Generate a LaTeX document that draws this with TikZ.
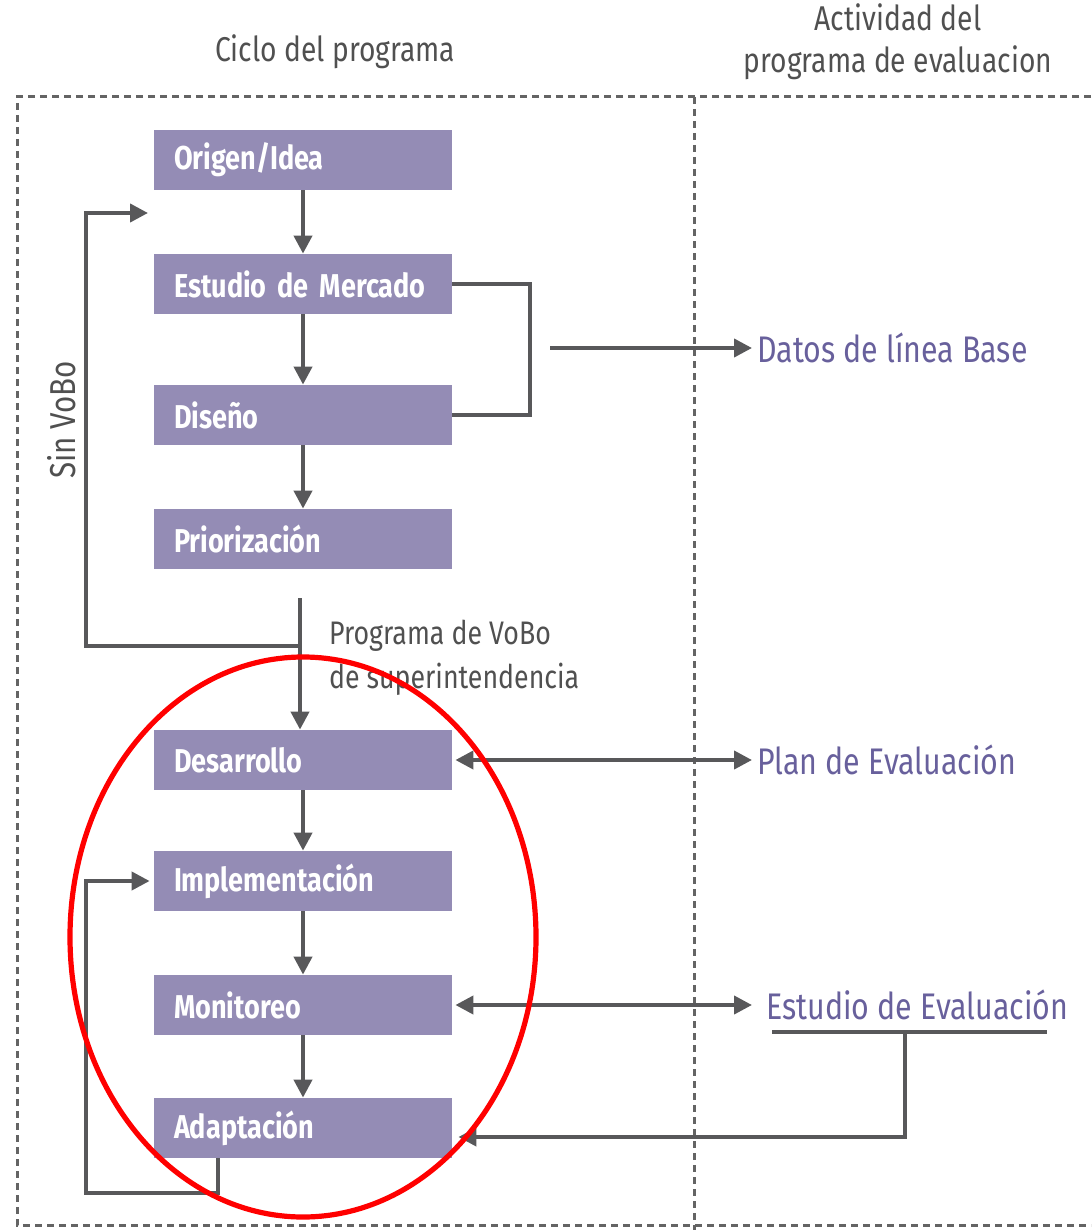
\documentclass[tikz,border=0pt]{standalone}
\usepackage{fontspec}
\setmainfont{Fira Sans}[FakeStretch=0.82]
\usetikzlibrary{arrows.meta,positioning}
\definecolor{boxfill}{RGB}{148,140,181}
\definecolor{linegray}{RGB}{88,88,90}
\definecolor{evalpurple}{RGB}{104,96,156}
\definecolor{titlegray}{RGB}{80,80,80}
\definecolor{framegray}{RGB}{100,100,100}

\begin{document}
\begin{tikzpicture}[
x=0.5pt, y=-0.5pt,
node distance=62pt,
box/.style={fill=boxfill, text=white, font=\fontsize{16.5}{18}\selectfont\bfseries, minimum width=149pt, minimum height=30pt, text width=129pt, inner xsep=10pt, align=left},
link/.style={draw=linegray, line width=2pt},
arrow/.style={link, -{Triangle[length=9pt,width=9pt]}},
dblarrow/.style={link, {Triangle[length=9pt,width=9pt]}-{Triangle[length=9pt,width=9pt]}},
evaltext/.style={text=evalpurple, font=\fontsize{18.5}{22}\selectfont, anchor=west, inner sep=0pt},
title/.style={text=titlegray, font=\fontsize{17.2}{21}\selectfont, align=center},
frame/.style={draw=framegray, line width=1.5pt, dash pattern=on 3.5pt off 2.5pt}
]

\useasboundingbox (0,0) rectangle (1091,1230);

\node[title] (ciclo) at (335,52) {Ciclo del programa};
\node[title] (actividad) at (898,42) {Actividad del\\programa de evaluacion};

\draw[frame] (1091,97) -- (17,97) -- (17,1225) -- (1091,1225);
\draw[frame] (694,97) -- (694,1230);

\node[box] (origen) at (303,160) {Origen/Idea};
\node[box, below of=origen] (estudio) {Estudio de Mercado};
\node[box, below of=estudio, node distance=65.5pt] (diseno) {Diseño};
\node[box, below of=diseno] (prior) {Priorización};
\node[box, below of=prior, node distance=110.5pt] (desarrollo) {Desarrollo};
\node[box, below of=desarrollo, node distance=60.5pt] (implem) {Implementación};
\node[box, below of=implem] (monitoreo) {Monitoreo};
\node[box, below of=monitoreo, node distance=61.5pt] (adapt) {Adaptación};

\node[evaltext] (datos) at (757,348) {Datos de línea Base};
\node[evaltext] (plan) at (757,760) {Plan de Evaluación};
\node[evaltext] (estudioeval) at (766,1005) {Estudio de Evaluación};

\node[title, rotate=90, font=\fontsize{18}{21}\selectfont] (sinvobo) at (62,420) {Sin VoBo};
\node[anchor=west, align=left, text=titlegray, font=\fontsize{16.3}{22}\selectfont] (vobolabel) at (322,658) {Programa de VoBo\\de superintendencia};

\coordinate (vobotop) at (300,598);
\coordinate (vobojoin) at (300,646);
\coordinate (sinvoboend) at (148,213);
\coordinate (bracketout) at (550,348);
\coordinate (ulleft) at (772,1032);
\coordinate (ulright) at (1047,1032);
\coordinate (ulmid) at (905,1032);
\coordinate (adaptout) at (218,1158);

\draw[arrow] (origen) -- (estudio);
\draw[arrow] (estudio) -- (diseno);
\draw[arrow] (diseno) -- (prior);
\draw[arrow] (desarrollo) -- (implem);
\draw[arrow] (implem) -- (monitoreo);
\draw[arrow] (monitoreo) -- (adapt);

\draw[arrow] (vobotop) -- (vobotop |- desarrollo.north);
\draw[arrow] (vobojoin) -- (86,646) |- (sinvoboend);

\draw[link] (estudio.east) -- ++(78,0) |- (diseno.east);
\draw[arrow, shorten >=2.5pt] (bracketout) -- (bracketout -| datos.west);

\draw[dblarrow, shorten >=2.5pt, shorten <=1.5pt] (desarrollo.east) -- (desarrollo.east -| plan.west);
\draw[dblarrow, shorten >=7pt, shorten <=1.5pt] (monitoreo.east) -- (monitoreo.east -| estudioeval.west);

\draw[link] (ulleft) -- (ulright);
\draw[arrow] (ulmid) |- ([yshift=-4.5pt, xshift=3pt]adapt.east);

\draw[arrow] (adaptout) -- (218,1193) -- (86,1193) |- ([xshift=-2pt]implem.west);

\draw[red, line width=2.6pt] (303,937) ellipse [x radius=116.5pt, y radius=140pt];

\end{tikzpicture}
\end{document}
